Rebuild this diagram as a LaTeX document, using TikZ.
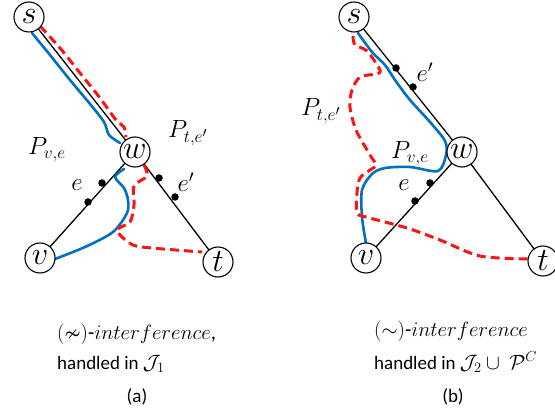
\documentclass[tikz,border=0pt]{standalone}
\usepackage{amssymb}
\usepackage{graphicx}
\usepackage{fontspec}
\newfontfamily\capfont{Carlito}
\definecolor{pblue}{RGB}{0,112,192}
\definecolor{pred}{RGB}{250,20,20}
\newcommand{\vl}[1]{\scalebox{1.3}{$#1$}}
\newcommand{\pl}[1]{\scalebox{1.2}{$#1$}}
\tikzset{
  vtx/.style={circle, draw, line width=1.1pt, fill=white, minimum size=30pt, inner sep=0pt, font=\fontsize{24.88}{25}\selectfont},
  edg/.style={line width=1.3pt},
  dotm/.style={circle, fill=black, minimum size=7.5pt, inner sep=0pt},
  lbl/.style={font=\fontsize{20.74}{21}\selectfont, inner sep=0pt},
  bpath/.style={pblue, line width=2.6pt, line cap=round, line join=round},
  rpath/.style={pred, line width=3pt, dash pattern=on 9pt off 5pt, line join=round},
  captext/.style={font=\capfont\fontsize{19}{19}\selectfont, inner sep=0pt, anchor=west},
  capmath/.style={font=\fontsize{20.74}{21}\selectfont, inner sep=0pt, anchor=west},
}
\begin{document}
\begin{tikzpicture}[x=1pt, y=-1pt]
\useasboundingbox (0,0) rectangle (555,414);
% ---------- panel (a) ----------
\coordinate (as) at (29,17);
\coordinate (aw) at (135,152);
\coordinate (av) at (40,258);
\coordinate (at) at (218,262);
\draw[edg] (as) -- (aw);
\draw[edg] (aw) -- (av);
\draw[edg] (aw) -- (at);
\node[dotm] (ad1) at (102,183) {};
\node[dotm] (ad2) at (88,202) {};
\node[dotm] (ad3) at (159,178) {};
\node[dotm] (ad4) at (175,197) {};
\node[lbl] (ae) at (77,185) {\pl{e}};
\node[lbl] (aep) at (186,182) {\pl{e'}};
\node[lbl] (apve) at (47,150) {\pl{P_{v,e}}};
\node[lbl] (apte) at (188,133) {\pl{P_{t,e'}}};
\draw[bpath] plot[smooth, tension=0.5] coordinates {(32,33) (50,55) (70,80) (90,104) (104,122) (109,135) (120,143)};
\draw[rpath] plot[smooth, tension=0.5] coordinates {(40,26) (60,48) (80,73) (100,98) (116,120) (124,127) (126,137)};
\draw[bpath] plot[smooth, tension=0.5] coordinates {(124,169) (115,177) (124,188) (128,200) (127,213) (113,232) (85,247) (55,259)};
\draw[rpath] plot[smooth, tension=0.5] coordinates {(144,165) (147,176) (134,186) (134,205) (130,222) (117,230) (128,242) (142,247) (202,252)};
\node[vtx] (s1) at (as) {\vl{s}};
\node[vtx] (w1) at (aw) {\vl{w}};
\node[vtx] (v1) at (av) {\vl{v}};
\node[vtx] (t1) at (at) {\vl{t}};
% ---------- panel (b) ----------
\coordinate (bs) at (354,17);
\coordinate (bw) at (462,152);
\coordinate (bv) at (366,258);
\coordinate (bt) at (543,261);
\draw[edg] (bs) -- (bw);
\draw[edg] (bw) -- (bv);
\draw[edg] (bw) -- (bt);
\node[dotm] (bd1) at (396,68) {};
\node[dotm] (bd2) at (413,87) {};
\node[dotm] (bd3) at (430,183) {};
\node[dotm] (bd4) at (415,201) {};
\node[lbl] (bep) at (425,72) {\pl{e'}};
\node[lbl] (be) at (404,185) {\pl{e}};
\node[lbl] (bpte) at (321,111) {\pl{P_{t,e'}}};
\node[lbl] (bpve) at (410,154) {\pl{P_{v,e}}};
\draw[bpath] plot[smooth, tension=0.5] coordinates {(358,33) (372,52) (385,65) (395,80) (410,100) (430,122) (445,141) (446,155) (438,171) (410,167) (385,168) (372,174) (362,190) (362,217) (366,243)};
\draw[rpath] plot[smooth, tension=0.5] coordinates {(353,36) (355,45) (367,51) (380,70) (376,74) (360,77) (352,90) (350,107) (356,130) (370,155) (376,165) (370,170) (360,178) (357,193) (357,213) (366,217) (407,228) (440,240) (480,256) (528,259)};
\node[vtx] (s2) at (bs) {\vl{s}};
\node[vtx] (w2) at (bw) {\vl{w}};
\node[vtx] (v2) at (bv) {\vl{v}};
\node[vtx] (t2) at (bt) {\vl{t}};
% ---------- captions ----------
\node[capmath] (ca1) at (57,334) {$(\nsim)$\capfont-$interference$,};
\node[captext] (ca2) at (57,364) {handled in {\fontsize{20.74}{21}\selectfont$\mathcal{J}_1$}};
\node[captext, anchor=center] (ca3) at (137,397) {(a)};
\node[capmath] (cb1) at (374,331) {$(\sim)$\capfont-$interference$};
\node[captext] (cb2) at (374,362) {handled in {\fontsize{20.74}{21}\selectfont$\mathcal{J}_2\cup\ \mathcal{P}^C$}};
\node[captext, anchor=center] (cb3) at (453,397) {(b)};
\end{tikzpicture}
\end{document}
